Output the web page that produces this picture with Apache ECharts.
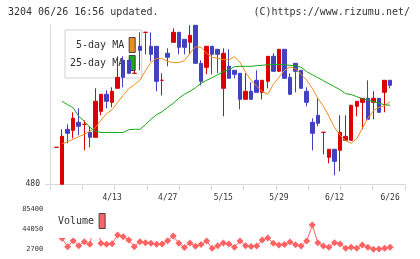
<!DOCTYPE html>
<html>
<head>
<meta charset="utf-8">
<script src="https://cdn.jsdelivr.net/npm/echarts@6/dist/echarts.min.js"></script>
<style>
html, body { margin: 0; padding: 0; background: #fff; }
#chart { width: 420px; height: 259px; }
</style>
</head>
<body>
<div id="chart"></div>
<script>
// trading days shown (2020)
const dates = [
  '3/30', '3/31', '4/1', '4/2', '4/3', '4/6', '4/7', '4/8', '4/9', '4/10',
  '4/13', '4/14', '4/15', '4/16', '4/17', '4/20', '4/21', '4/22', '4/23', '4/24',
  '4/27', '4/28', '4/30', '5/1', '5/7', '5/8', '5/11', '5/12', '5/13', '5/14',
  '5/15', '5/18', '5/19', '5/20', '5/21', '5/22', '5/25', '5/26', '5/27', '5/28',
  '5/29', '6/1', '6/2', '6/3', '6/4', '6/5', '6/8', '6/9', '6/10', '6/11',
  '6/12', '6/15', '6/16', '6/17', '6/18', '6/19', '6/22', '6/23', '6/24', '6/25',
  '6/26'
]
const dateTicks = ['4/13', '4/27', '5/15', '5/29', '6/12', '6/26']

const opens = [
  498.5, 480, 507.5, 507, 511, 510, 506, 503.5, 516.5, 525,
  521, 528, 542, 542, 535.5, 549, 556, 549, 549, 532,
  545.5, 551, 556, 552.5, 551, 559.5, 540.5, 538.5, 549, 547.5,
  528, 539, 537, 535.5, 522.5, 526.5, 532, 526, 531.5, 544,
  536.5, 547.5, 533.5, 540.5, 537, 526.5, 511, 514.5, 506, 493.5,
  497.5, 497, 502, 502, 519, 521, 523, 521, 523, 526,
  532
]
const closes = [
  498.5, 504, 505.5, 513, 509, 510, 503.5, 521.5, 525, 521.5,
  526.5, 533.5, 533.5, 535.5, 535.5, 547, 556, 545, 531.5, 532,
  543.5, 556, 548.5, 548.5, 554.5, 540.5, 531.5, 549, 545, 545,
  545.5, 533, 535, 522.5, 526.5, 522.5, 526, 532, 544, 536.5,
  547.5, 533, 525, 536.5, 528, 521, 505.5, 510.5, 506, 497.5,
  491.5, 506, 504, 519.5, 521.5, 523, 512.5, 523, 516, 532,
  529.5
]
const lows = [
  498.5, 480, 500.5, 503, 504.5, 497, 498.5, 503.5, 514.5, 518,
  518.5, 528, 528.5, 535.5, 535.5, 537, 545, 541.5, 526.5, 524.5,
  539, 551, 545, 545, 545, 540.5, 529.5, 535, 535, 535.5,
  514, 533, 533, 517.5, 522.5, 522.5, 526, 522.5, 528, 536.5,
  536.5, 533, 525, 526, 528, 519, 497, 509, 495, 490.5,
  484.5, 486.5, 502, 502, 514, 507.5, 512.5, 512.5, 516, 516,
  528
]
const highs = [
  498.5, 507.5, 510, 516, 518, 512, 509, 528, 525, 527,
  528.5, 544, 544, 542, 537, 556, 556, 556, 549, 535.5,
  548, 558, 556, 552.5, 559.5, 559.5, 542, 549, 549, 547.5,
  548, 547.5, 537, 535.5, 535.5, 531, 537, 532, 544, 545.5,
  547.5, 547.5, 535.5, 540.5, 537, 528.5, 513, 523, 506, 497.5,
  497.5, 514.5, 514.5, 519.5, 521.5, 523, 532, 526.5, 523, 532,
  532
]

const ma5 = [
  null, 500.3, 501.3, 502.5, 503.8, 505, 506.5, 508.3, 512, 515.3,
  517.3, 521, 524.5, 527.8, 529.8, 532, 536.8, 541, 542.9, 542.8,
  541.5, 540.9, 540.9, 541.8, 545.5, 548.8, 548.5, 545.5, 543.5, 543,
  542.3, 542.3, 543.8, 541, 536, 532, 529, 526.5, 525, 530,
  533.5, 537, 538.7, 537.8, 535, 532, 528, 523, 519, 514,
  508.5, 504.5, 501.8, 500.5, 502.8, 508, 513, 516.8, 518.5, 519.3,
  521.3
]
const ma25 = [
  null, 521.5, 519.8, 518.3, 514, 511.5, 508.5, 506.5, 505.9, 505.9,
  505.9, 505.9, 505.9, 507.3, 507.5, 507.5, 509.8, 512.5, 514.8, 516.3,
  518.5, 520.5, 523, 525, 526.5, 528.3, 530.5, 532, 533.3, 534.8,
  536.3, 537.3, 538.8, 539, 539, 539, 539.3, 539.5, 539.8, 539.9,
  539.9, 539.8, 539.5, 539.3, 538.5, 536.3, 534.8, 533.3, 531.8, 530.3,
  528.8, 527.3, 525.3, 524.9, 523.8, 522.8, 522, 521.5, 520.5, 519.8,
  519.5
]

const volumes = [
  null, 25500, 8000, 20300, 10100, 18300, 13000, 70000, 15000, 13000,
  14000, 32000, 28600, 21800, 8000, 18300, 16200, 15000, 13000, 13600,
  20300, 30000, 15000, 6400, 15600, 8900, 12500, 19700, 4750, 9900,
  15600, 13600, 6800, 19700, 10100, 8450, 9500, 21800, 25900, 15000,
  11500, 12500, 17700, 12100, 9500, 19700, 52600, 16200, 9500, 6800,
  16200, 13600, 4750, 6800, 4750, 11500, 6800, 2700, 3200, 4750,
  6800
]

const priceTicks = [480]
const volumeTicks = [2700, 44050, 85400]

const UP = '#dd0000'
const DOWN = '#4242c0'
const AXIS = '#d8d8d8'
const FONT = 'DejaVu Sans Mono'

const candleData = dates.map((d, i) => [opens[i], closes[i], lows[i], highs[i]])

const chart = echarts.init(document.getElementById('chart'), null, { renderer: 'canvas' })

chart.setOption({
  animation: false,
  backgroundColor: '#fff',
  title: [
    {
      text: '3204 06/26 16:56 updated.',
      left: 8, top: 7, padding: 0,
      textStyle: { fontFamily: FONT, fontSize: 10, fontWeight: 'normal', color: '#333' }
    },
    {
      text: '(C)https://www.rizumu.net/',
      right: 10, top: 7, padding: 0,
      textStyle: { fontFamily: FONT, fontSize: 10, fontWeight: 'normal', color: '#333' }
    }
  ],
  legend: [
    {
      data: [
        { name: '5-day MA', itemStyle: { color: '#f08c1c' } },
        { name: '25-day MA', itemStyle: { color: '#18a818' } }
      ],
      orient: 'vertical',
      align: 'right',
      left: 65, top: 30,
      padding: [7, 6, 7, 5],
      itemGap: 2,
      itemWidth: 6, itemHeight: 15,
      icon: 'rect',
      itemStyle: { borderColor: '#444', borderWidth: 1 },
      backgroundColor: '#fff',
      borderColor: '#d0d0d0', borderWidth: 1,
      textStyle: { fontFamily: FONT, fontSize: 10, color: '#333' },
      selectedMode: false,
      z: 1
    },
    {
      data: [{ name: 'Volume', itemStyle: { color: '#ff6262' } }],
      align: 'right',
      left: 53, top: 209,
      padding: [4, 5, 9, 5],
      itemWidth: 6, itemHeight: 15,
      icon: 'rect',
      itemStyle: { borderColor: '#444', borderWidth: 1 },
      backgroundColor: '#fff',
      textStyle: { fontFamily: FONT, fontSize: 10, color: '#333' },
      selectedMode: false,
      z: 6
    }
  ],
  grid: [
    { left: 50, right: 15, top: 25.3, bottom: 74.7 },
    { left: 53.7, right: 27.1, top: 25.3, bottom: 74.7 },
    { left: 53.7, right: 27.1, top: 209, bottom: 9.7 }
  ],
  xAxis: [
    {
      type: 'value', gridIndex: 0, min: 0, max: 11, interval: 1,
      axisLine: { lineStyle: { color: AXIS } },
      axisTick: { length: 6, lineStyle: { color: AXIS } },
      axisLabel: { show: false },
      splitLine: { show: false }
    },
    {
      type: 'category', gridIndex: 1, data: dates, boundaryGap: true,
      axisLine: { show: false },
      axisTick: { show: false },
      axisLabel: {
        interval: (i, v) => dateTicks.includes(v),
        margin: 10,
        fontFamily: FONT, fontSize: 8, color: '#333'
      }
    },
    {
      type: 'category', gridIndex: 2, data: dates, boundaryGap: true, show: false
    }
  ],
  yAxis: [
    {
      type: 'value', gridIndex: 0, min: 480, max: 559.5,
      axisLine: { show: true, lineStyle: { color: AXIS } },
      axisTick: { show: true, length: 5, customValues: priceTicks, lineStyle: { color: AXIS } },
      axisLabel: { customValues: priceTicks, margin: 10, fontFamily: FONT, fontSize: 8, color: '#333' },
      splitLine: { show: false }
    },
    {
      type: 'value', gridIndex: 1, min: 480, max: 559.5, show: false
    },
    {
      type: 'value', gridIndex: 2, min: 2700, max: 85400,
      axisLine: { show: false },
      axisTick: { show: false },
      axisLabel: {
        customValues: volumeTicks, margin: 10.5,
        formatter: v => String(v),
        fontFamily: FONT, fontSize: 7, color: '#333'
      },
      splitLine: { show: false }
    }
  ],
  series: [
    {
      type: 'candlestick',
      xAxisIndex: 1, yAxisIndex: 1,
      data: candleData,
      barWidth: 4,
      itemStyle: {
        color: UP, color0: DOWN,
        borderColor: UP, borderColor0: DOWN, borderColorDoji: UP,
        borderWidth: 1
      },
      z: 2
    },
    {
      name: '5-day MA', type: 'line',
      xAxisIndex: 1, yAxisIndex: 1,
      data: ma5, showSymbol: false, color: '#f08c1c',
      lineStyle: { width: 1, color: '#f08c1c' },
      z: 3
    },
    {
      name: '25-day MA', type: 'line',
      xAxisIndex: 1, yAxisIndex: 1,
      data: ma25, showSymbol: false, color: '#18a818',
      lineStyle: { width: 1, color: '#18a818' },
      z: 3
    },
    {
      name: 'Volume', type: 'line',
      xAxisIndex: 2, yAxisIndex: 2,
      data: volumes, color: '#ff6262',
      symbol: 'diamond', symbolSize: 7, showAllSymbol: true,
      lineStyle: { width: 1, color: '#ff6262' },
      itemStyle: { color: '#ff6262' },
      z: 3
    }
  ]
})
</script>
</body>
</html>
